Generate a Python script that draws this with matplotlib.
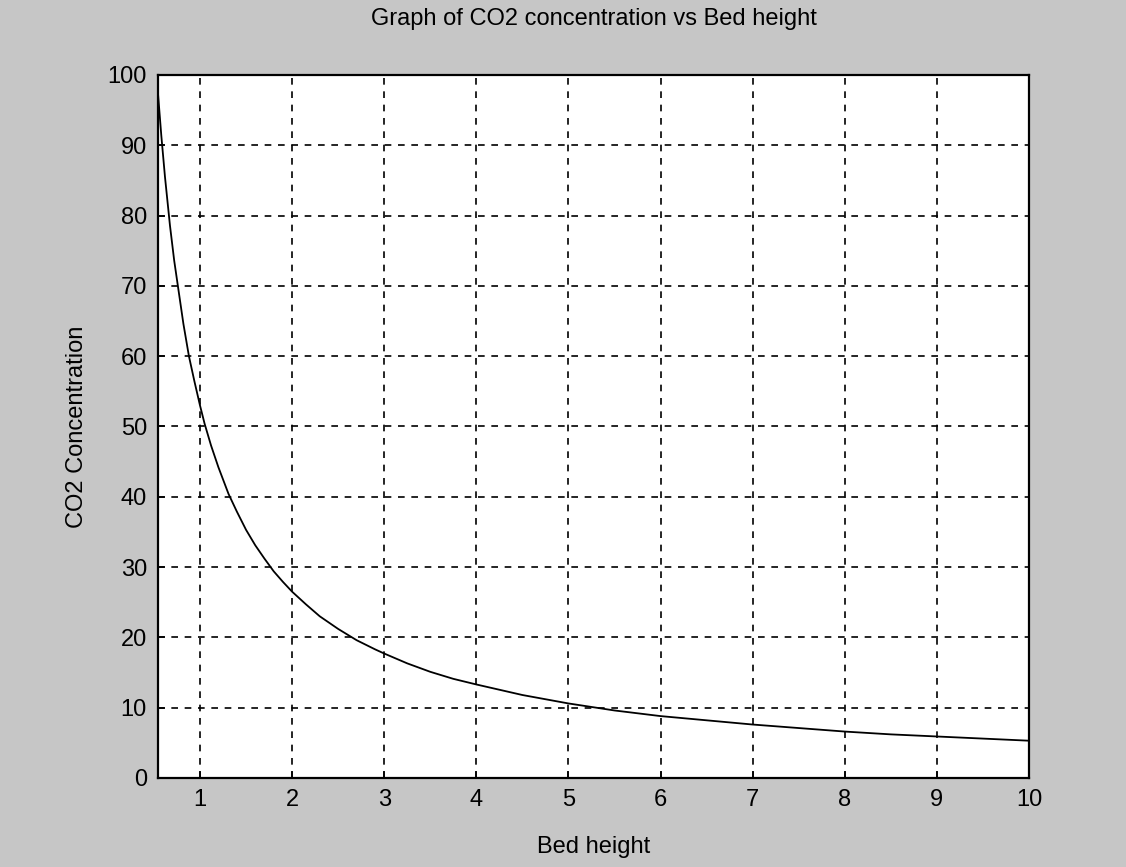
import matplotlib.pyplot as plt

# values
bed_height = [0.544, 0.58, 0.62, 0.674, 0.72, 0.76, 0.82, 0.88, 0.94, 1.0, 1.05, 1.12, 1.2,
              1.31, 1.4, 1.5, 1.6, 1.7, 1.8, 1.9, 2.0, 2.15, 2.3, 2.5, 2.7, 2.9, 3.0,
              3.25, 3.5, 3.75, 4.0, 4.5, 5.0, 5.5, 6.0, 6.5, 7.0, 7.5, 8.0, 8.5, 9.0,
              9.5, 10.0]
co2_conc = [97.4, 91.4, 85.5, 78.6, 73.6, 70.0, 64.6, 60.0, 56.4, 53.0, 50.4, 47.3, 44.2,
            40.4, 37.9, 35.3, 33.1, 31.2, 29.4, 27.9, 26.5, 24.7, 23.0, 21.2, 19.6, 18.3, 17.7,
            16.3, 15.1, 14.1, 13.3, 11.8, 10.6, 9.6, 8.8, 8.2, 7.6, 7.1, 6.6, 6.2, 5.9,
            5.6, 5.3]
x_ticks = [1, 2, 3, 4, 5, 6, 7, 8, 9, 10]
y_ticks = [0, 10, 20, 30, 40, 50, 60, 70, 80, 90, 100]

plt.rcParams["font.family"] = ["Liberation Sans", "DejaVu Sans"]

fig = plt.figure(figsize=(11.26, 8.67), dpi=100, facecolor="#c6c6c6")
ax = fig.add_axes([0.1403, 0.1027, 0.7736, 0.8108])
ax.set_facecolor("white")

ax.plot(bed_height, co2_conc, color="black", linewidth=1.3)

ax.set_xlim(0.544, 10)
ax.set_ylim(0, 100)
ax.set_xticks(x_ticks)
ax.set_yticks(y_ticks)
ax.tick_params(direction="in", length=5, width=1.2, labelsize=17, pad=8, colors="black")
ax.grid(True, color="black", linestyle=(0, (4, 4)), linewidth=1.2)
for spine in ax.spines.values():
    spine.set_linewidth(1.6)

ax.set_title("Graph of CO2 concentration vs Bed height", fontsize=17, pad=36)
ax.set_xlabel("Bed height", fontsize=17, labelpad=18)
ax.set_ylabel("CO2 Concentration", fontsize=17, labelpad=14)

fig.savefig("out.png", dpi=100, facecolor=fig.get_facecolor())
